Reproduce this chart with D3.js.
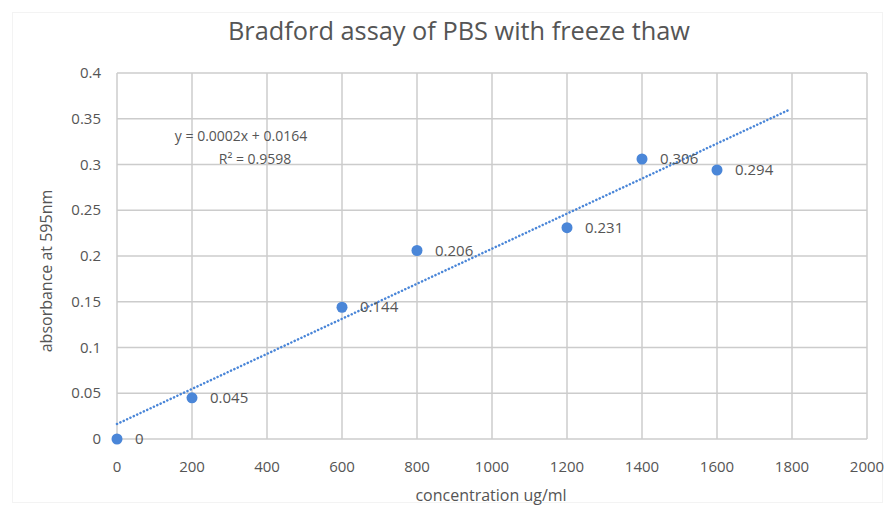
<!DOCTYPE html>
<html>
<head>
<meta charset="utf-8">
<script src="https://cdn.jsdelivr.net/npm/d3@7"></script>
<style>
	body { margin: 0; background: #fff; }
	text { font-family: "Open Sans", "Liberation Sans", sans-serif; }
</style>
</head>
<body>
<div id="graph-container"></div>
<script>
// chart data
const concentration = [0, 200, 600, 800, 1200, 1400, 1600];
const absorbance = [0, 0.045, 0.144, 0.206, 0.231, 0.306, 0.294];
const xTicks = [0, 200, 400, 600, 800, 1000, 1200, 1400, 1600, 1800, 2000];
const yTicks = [0, 0.05, 0.1, 0.15, 0.2, 0.25, 0.3, 0.35, 0.4];
const trendEnd = 1790; // forward forecast of the trendline
const equationLines = ["y = 0.0002x + 0.0164", "R² = 0.9598"];

document.addEventListener("DOMContentLoaded", function () {
	builder();
});

function builder() {
	const w = 894;
	const h = 510;
	const blue = "#4a86d8";
	const grey = "#555555";

	const svg = d3
		.select("#graph-container")
		.append("svg")
		.attr("width", w)
		.attr("height", h);

	// faint chart frame
	svg.append("rect")
		.attr("x", 12.5).attr("y", 12.5)
		.attr("width", 870).attr("height", 490)
		.attr("fill", "none")
		.attr("stroke", "#f3f3f3");

	const x = d3.scaleLinear().domain([0, 2000]).range([117, 867]);
	const y = d3.scaleLinear().domain([0, 0.4]).range([439, 73]);

	// gridlines
	svg.append("g")
		.selectAll("line.v")
		.data(xTicks)
		.enter()
		.append("line")
		.attr("x1", (d) => x(d)).attr("x2", (d) => x(d))
		.attr("y1", y(0)).attr("y2", y(0.4))
		.attr("stroke", "#cccccc")
		.attr("stroke-width", 1.5);
	svg.append("g")
		.selectAll("line.h")
		.data(yTicks)
		.enter()
		.append("line")
		.attr("x1", x(0)).attr("x2", x(2000))
		.attr("y1", (d) => y(d)).attr("y2", (d) => y(d))
		.attr("stroke", "#cccccc")
		.attr("stroke-width", 1.5);

	// tick labels
	svg.append("g")
		.selectAll("text")
		.data(xTicks)
		.enter()
		.append("text")
		.attr("x", (d) => x(d))
		.attr("y", 472)
		.attr("text-anchor", "middle")
		.attr("font-size", 15)
		.attr("fill", grey)
		.text((d) => d);
	svg.append("g")
		.selectAll("text")
		.data(yTicks)
		.enter()
		.append("text")
		.attr("x", 101)
		.attr("y", (d) => y(d) + 5)
		.attr("text-anchor", "end")
		.attr("font-size", 15)
		.attr("fill", grey)
		.text((d) => d3.format("")(+d.toFixed(2)));

	// title and axis titles
	svg.append("text")
		.attr("x", 459).attr("y", 40)
		.attr("text-anchor", "middle")
		.attr("font-size", 26)
		.attr("textLength", 462)
		.attr("lengthAdjust", "spacingAndGlyphs")
		.attr("fill", grey)
		.text("Bradford assay of PBS with freeze thaw");
	svg.append("text")
		.attr("x", 491).attr("y", 501)
		.attr("text-anchor", "middle")
		.attr("font-size", 16)
		.attr("fill", grey)
		.text("concentration ug/ml");
	svg.append("text")
		.attr("transform", "translate(52,271) rotate(-90)")
		.attr("text-anchor", "middle")
		.attr("font-size", 16)
		.attr("fill", grey)
		.text("absorbance at 595nm");

	// linear least-squares trendline
	const mx = d3.mean(concentration);
	const my = d3.mean(absorbance);
	const sxy = d3.sum(concentration, (c, i) => (c - mx) * (absorbance[i] - my));
	const sxx = d3.sum(concentration, (c) => (c - mx) * (c - mx));
	const slope = sxy / sxx;
	const icpt = my - slope * mx;
	svg.append("line")
		.attr("x1", x(0)).attr("y1", y(icpt))
		.attr("x2", x(trendEnd)).attr("y2", y(icpt + slope * trendEnd))
		.attr("stroke", blue)
		.attr("stroke-width", 2.5)
		.attr("stroke-linecap", "round")
		.attr("stroke-dasharray", "0.1 3.6");

	// equation
	svg.append("text")
		.attr("x", 241).attr("y", 141)
		.attr("text-anchor", "middle")
		.attr("font-size", 14)
		.attr("fill", grey)
		.text(equationLines[0]);
	svg.append("text")
		.attr("x", 255).attr("y", 164)
		.attr("text-anchor", "middle")
		.attr("font-size", 14)
		.attr("fill", grey)
		.text(equationLines[1]);

	// points and data labels
	const pts = concentration.map((c, i) => ({ c: c, a: absorbance[i] }));
	svg.append("g")
		.selectAll("circle")
		.data(pts)
		.enter()
		.append("circle")
		.attr("cx", (d) => x(d.c))
		.attr("cy", (d) => y(d.a))
		.attr("r", 5.5)
		.attr("fill", blue);
	svg.append("g")
		.selectAll("text")
		.data(pts)
		.enter()
		.append("text")
		.attr("x", (d) => x(d.c) + 18)
		.attr("y", (d) => y(d.a) + 5)
		.attr("font-size", 15)
		.attr("fill", grey)
		.text((d) => d.a);
}
</script>
</body>
</html>
